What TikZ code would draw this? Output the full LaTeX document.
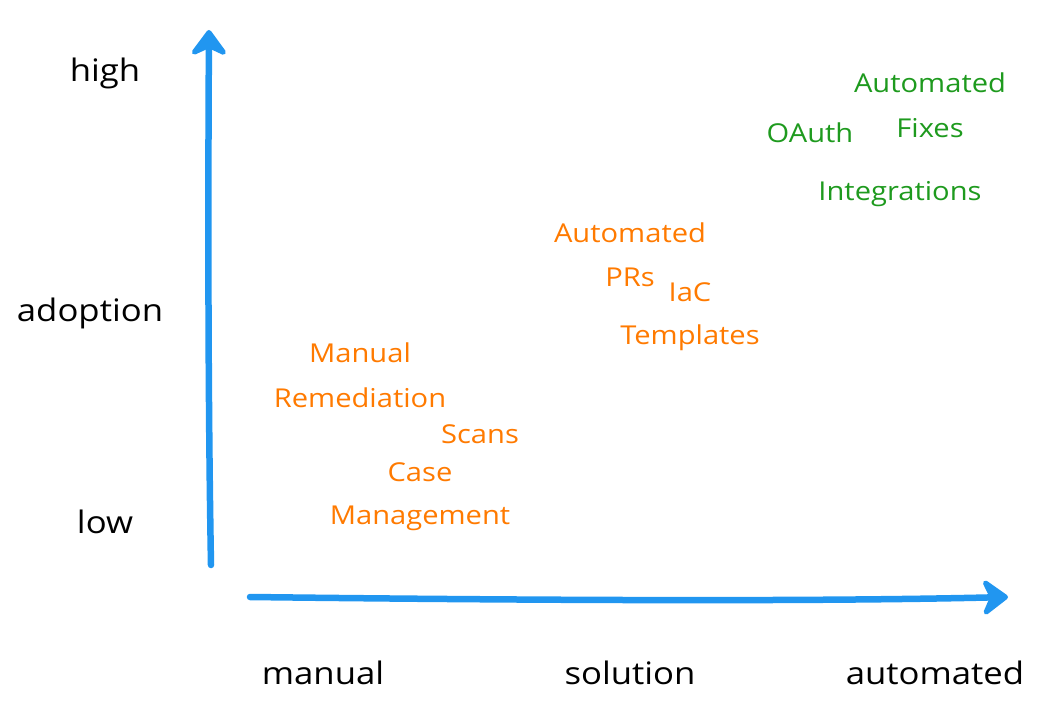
\documentclass[tikz,border=0pt]{standalone}
\usepackage{fontspec}
\setmainfont{Open Sans}
\newfontfamily\widefont[FakeStretch=1.12]{Open Sans}
\usetikzlibrary{arrows.meta}
\definecolor{axisblue}{HTML}{2196F0}
\definecolor{lblorange}{HTML}{FF7A00}
\definecolor{lblgreen}{HTML}{1E9A1E}
\begin{document}
\begin{tikzpicture}[x=1pt,y=-1pt,
  axis/.style={draw=axisblue,line width=6.5pt,line cap=round,
    -{Stealth[length=30pt,width=44pt,inset=10pt,round]}},
  axlabel/.style={font=\widefont\fontsize{31}{33}\selectfont,text=black,inner sep=0pt},
  orangelbl/.style={font=\widefont\fontsize{26}{28}\selectfont,text=lblorange,inner sep=0pt},
  greenlbl/.style={font=\widefont\fontsize{26}{28}\selectfont,text=lblgreen,inner sep=0pt}]
\useasboundingbox (0,0) rectangle (1050,714);
% axes
\coordinate (ybot) at (211,565);
\coordinate (ytop) at (209,30);
\coordinate (xleft) at (250,597);
\coordinate (xright) at (1008,597);
\draw[axis] (ybot) .. controls (208,400) and (208,200) .. (ytop);
\draw[axis] (xleft) .. controls (500,600) and (800,602) .. (xright);
% axis labels
\node[axlabel] (high) at (105,73) {high};
\node[axlabel] (adoption) at (90,313) {adoption};
\node[axlabel] (low) at (105,522) {low};
\node[axlabel] (manual) at (323,673) {manual};
\node[axlabel] (solution) at (630,673) {solution};
\node[axlabel] (automated) at (935,673) {automated};
% orange labels
\node[orangelbl] (ap1) at (630,233) {Automated};
\node[orangelbl] (ap2) at (630,277) {PRs};
\node[orangelbl] (iac1) at (690,292) {IaC};
\node[orangelbl] (iac2) at (690,338) {Templates};
\node[orangelbl] (mr1) at (360,353) {Manual};
\node[orangelbl] (mr2) at (360,398) {Remediation};
\node[orangelbl] (scans) at (480,434) {Scans};
\node[orangelbl] (cm1) at (420,472) {Case};
\node[orangelbl] (cm2) at (420,518) {Management};
% green labels
\node[greenlbl] (af1) at (930,83) {Automated};
\node[greenlbl] (af2) at (930,128) {Fixes};
\node[greenlbl] (oauth) at (810,133) {OAuth};
\node[greenlbl] (integ) at (900,194) {Integrations};
\end{tikzpicture}
\end{document}
